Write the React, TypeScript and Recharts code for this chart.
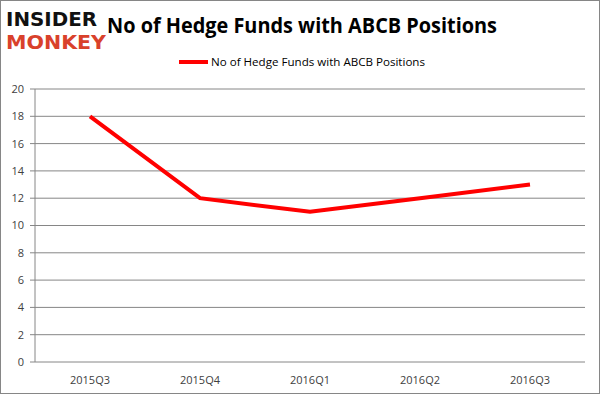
import React from "react";
import { LineChart, Line, XAxis, YAxis, CartesianGrid, Legend } from "recharts";

const quarters = ["2015Q3", "2015Q4", "2016Q1", "2016Q2", "2016Q3"];
const hedgeFunds = [18, 12, 11, 12, 13];
const yTicks = [0, 2, 4, 6, 8, 10, 12, 14, 16, 18, 20];
const seriesName = "No of Hedge Funds with ABCB Positions";
const titleText = "No of Hedge Funds with ABCB Positions";

const data = quarters.map((q, i) => ({ pos: i + 0.5, label: q, value: hedgeFunds[i] }));
const boundaryTicks = quarters.map((_, i) => i).concat([quarters.length]);
const centerTicks = quarters.map((_, i) => i + 0.5);

const FONT = "'Open Sans', 'DejaVu Sans', sans-serif";

const LegendContent = () => (
  <div style={{ width: 601, height: 20, position: "relative" }}>
    <svg width={601} height={20} style={{ display: "block" }}>
      <line x1={179} y1={10} x2={208} y2={10} stroke="#ff0000" strokeWidth={4} />
      <text x={211} y={14} fontSize={11} fontFamily={FONT} fill="#000" textLength={214} lengthAdjust="spacingAndGlyphs">
        {seriesName}
      </text>
    </svg>
  </div>
);

export default function App() {
  return (
    <div style={{ position: "absolute", left: 0, top: 0, width: 601, height: 395, background: "#fff" }}>
      <LineChart
        width={601}
        height={395}
        data={data}
        margin={{ top: 69, right: 16, bottom: 0, left: 0 }}
      >
        <CartesianGrid vertical={false} stroke="#868686" strokeWidth={1} />
        <XAxis
          xAxisId="bounds"
          dataKey="pos"
          type="number"
          domain={[0, quarters.length]}
          ticks={boundaryTicks}
          tick={false}
          tickSize={5}
          height={0}
          stroke="#868686"
          axisLine={{ stroke: "#868686" }}
          tickLine={{ stroke: "#868686" }}
        />
        <XAxis
          xAxisId="labels"
          dataKey="pos"
          type="number"
          domain={[0, quarters.length]}
          ticks={centerTicks}
          tickFormatter={(v: number) => quarters[Math.floor(v)]}
          axisLine={false}
          tickLine={false}
          tickSize={5}
          tickMargin={9}
          height={33}
          tick={{ fontSize: 11, fontFamily: FONT, fill: "#404040" }}
        />
        <YAxis
          domain={[0, 20]}
          ticks={yTicks}
          width={35}
          tickSize={5}
          tickMargin={6}
          interval={0}
          axisLine={{ stroke: "#868686" }}
          tickLine={{ stroke: "#868686" }}
          tick={{ fontSize: 11, fontFamily: FONT, fill: "#404040" }}
        />
        <Legend
          verticalAlign="top"
          height={20}
          content={<LegendContent />}
          wrapperStyle={{ top: 52, left: 0, width: 601 }}
        />
        <Line
          xAxisId="bounds"
          type="linear"
          dataKey="value"
          name={seriesName}
          stroke="#ff0000"
          strokeWidth={4}
          dot={false}
          activeDot={false}
          isAnimationActive={false}
        />
      </LineChart>
      <svg
        width={601}
        height={395}
        style={{ position: "absolute", left: 0, top: 0, pointerEvents: "none" }}
      >
        <rect x={0.5} y={0.5} width={599} height={393} fill="none" stroke="#868686" strokeWidth={1} />
        <text x={6} y={26} fontSize={20} fontWeight={900} fontFamily="'DejaVu Sans', sans-serif" fill="#111" textLength={91} lengthAdjust="spacingAndGlyphs">
          INSIDER
        </text>
        <text x={6} y={49} fontSize={19} fontWeight={900} fontFamily="'DejaVu Sans', sans-serif" fill="#d9412b" textLength={100} lengthAdjust="spacingAndGlyphs">
          MONKEY
        </text>
        <text x={107} y={33} fontSize={22} fontWeight={700} fontFamily={FONT} fill="#000" textLength={390} lengthAdjust="spacingAndGlyphs">
          {titleText}
        </text>
      </svg>
    </div>
  );
}
